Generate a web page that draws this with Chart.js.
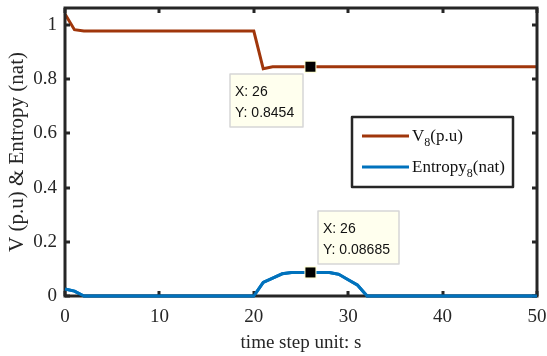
<!DOCTYPE html>
<html><head><meta charset="utf-8">
<script src="https://cdn.jsdelivr.net/npm/chart.js@4/dist/chart.umd.min.js"></script>
<style>html,body{margin:0;padding:0;background:#fff}#wrap{width:547px;height:356px}</style>
</head><body><div id="wrap"><canvas id="c" width="547" height="356"></canvas></div>
<script>
const timeSteps = [];
for (let t = 0; t <= 50; t++) timeSteps.push(t);
const voltage = [1.04,0.982,0.977,0.977,0.977,0.977,0.977,0.977,0.977,0.977,0.977,0.977,0.977,0.977,0.977,0.977,0.977,0.977,0.977,0.977,0.977,0.838,0.8454,0.8454,0.8454,0.8454,0.8454,0.8454,0.8454,0.8454,0.8454,0.8454,0.8454,0.8454,0.8454,0.8454,0.8454,0.8454,0.8454,0.8454,0.8454,0.8454,0.8454,0.8454,0.8454,0.8454,0.8454,0.8454,0.8454,0.8454,0.8454];
const entropy = [0.026,0.018,0,0,0,0,0,0,0,0,0,0,0,0,0,0,0,0,0,0,0,0.05,0.066,0.082,0.087,0.087,0.08685,0.087,0.087,0.08,0.06,0.04,0,0,0,0,0,0,0,0,0,0,0,0,0,0,0,0,0,0,0];
const xTicks = [0,10,20,30,40,50];
const yTicks = [0,0.2,0.4,0.6,0.8,1];
const tips = [
  {x: 26, y: 0.8454, lines: ['X: 26', 'Y: 0.8454']},
  {x: 26, y: 0.08685, lines: ['X: 26', 'Y: 0.08685']}
];
const legendItems = [
  {name: 'V', sub: '8', rest: '(p.u)', color: '#A0360B'},
  {name: 'Entropy', sub: '8', rest: '(nat)', color: '#0072BD'}
];

const serif = '"Liberation Serif", "Times New Roman", serif';
const sans = '"Liberation Sans", Arial, sans-serif';

const decor = {
  id: 'decor',
  afterDatasetsDraw(chart) {
    const {ctx, chartArea: a, scales: {x, y}} = chart;
    ctx.save();
    ctx.strokeStyle = '#262626';
    ctx.lineWidth = 3;
    ctx.strokeRect(a.left, a.top, a.right - a.left, a.bottom - a.top);
    const tl = 5;
    xTicks.forEach(v => {
      const px = Math.round(x.getPixelForValue(v));
      ctx.beginPath(); ctx.moveTo(px, a.bottom); ctx.lineTo(px, a.bottom - tl); ctx.stroke();
      ctx.beginPath(); ctx.moveTo(px, a.top); ctx.lineTo(px, a.top + tl); ctx.stroke();
    });
    yTicks.forEach(v => {
      const py = Math.round(y.getPixelForValue(v));
      ctx.beginPath(); ctx.moveTo(a.left, py); ctx.lineTo(a.left + tl, py); ctx.stroke();
      ctx.beginPath(); ctx.moveTo(a.right, py); ctx.lineTo(a.right - tl, py); ctx.stroke();
    });
    // entropy line redrawn over the frame (it lies on y = 0)
    const meta = chart.getDatasetMeta(1);
    ctx.strokeStyle = '#0072BD';
    ctx.lineWidth = 3;
    ctx.lineJoin = 'round';
    ctx.beginPath();
    meta.data.forEach((p, i) => { if (i === 0) ctx.moveTo(p.x, p.y); else ctx.lineTo(p.x, p.y); });
    ctx.stroke();

    // legend
    const lx = 352, ly = 117, lw = 161, lh = 70;
    ctx.fillStyle = '#fff';
    ctx.fillRect(lx, ly, lw, lh);
    ctx.strokeStyle = '#262626';
    ctx.lineWidth = 2.5;
    ctx.strokeRect(lx, ly, lw, lh);
    legendItems.forEach((it, i) => {
      const cy = ly + 19 + i * 31;
      ctx.strokeStyle = it.color; ctx.lineWidth = 3;
      ctx.beginPath(); ctx.moveTo(lx + 10, cy); ctx.lineTo(lx + 57, cy); ctx.stroke();
      ctx.fillStyle = '#111';
      ctx.textBaseline = 'alphabetic'; ctx.textAlign = 'left';
      ctx.font = '17px ' + serif;
      let tx = lx + 60;
      ctx.fillText(it.name, tx, cy + 5);
      tx += ctx.measureText(it.name).width;
      ctx.font = '12px ' + serif;
      ctx.fillText(it.sub, tx, cy + 10);
      tx += ctx.measureText(it.sub).width;
      ctx.font = '17px ' + serif;
      ctx.fillText(it.rest, tx, cy + 5);
    });

    // datatips
    const boxes = [{bx: 230, by: 74, bw: 73, bh: 53}, {bx: 318, by: 211, bw: 81, bh: 53}];
    tips.forEach((t, i) => {
      const b = boxes[i];
      ctx.fillStyle = '#FFFFEE';
      ctx.fillRect(b.bx, b.by, b.bw, b.bh);
      ctx.strokeStyle = '#D6D6D6'; ctx.lineWidth = 1.5;
      ctx.strokeRect(b.bx, b.by, b.bw, b.bh);
      ctx.fillStyle = '#111';
      ctx.font = '14px ' + sans;
      ctx.textAlign = 'left'; ctx.textBaseline = 'middle';
      ctx.fillText(t.lines[0], b.bx + 5, b.by + 18);
      ctx.fillText(t.lines[1], b.bx + 5, b.by + 39);
      const px = x.getPixelForValue(t.x), py = y.getPixelForValue(t.y);
      ctx.fillStyle = '#FFFFD0';
      ctx.fillRect(px - 6, py - 6, 12, 12);
      ctx.fillStyle = '#000';
      ctx.fillRect(px - 5, py - 5, 10, 10);
    });
    ctx.restore();
  }
};

function noOverflow(s) { s.paddingTop = 0; s.paddingBottom = 0; s.paddingLeft = 0; s.paddingRight = 0; }

new Chart(document.getElementById('c'), {
  type: 'line',
  data: {
    labels: timeSteps,
    datasets: [
      {label: 'V8(p.u)', data: timeSteps.map((t, i) => ({x: t, y: voltage[i]})), borderColor: '#A0360B', borderWidth: 3, pointRadius: 0, tension: 0, clip: false},
      {label: 'Entropy8(nat)', data: timeSteps.map((t, i) => ({x: t, y: entropy[i]})), borderColor: '#0072BD', borderWidth: 3, pointRadius: 0, tension: 0, clip: false}
    ]
  },
  options: {
    responsive: false,
    animation: false,
    layout: {padding: {top: 8, right: 10, left: 0, bottom: 0}},
    plugins: {legend: {display: false}, tooltip: {enabled: false}},
    scales: {
      x: {
        type: 'linear', min: 0, max: 50,
        afterBuildTicks: s => { s.ticks = xTicks.map(v => ({value: v})); },
        afterFit: s => { s.height = 60; noOverflow(s); },
        grid: {display: false, drawTicks: false}, border: {display: false},
        ticks: {color: '#262626', font: {family: serif, size: 19}, padding: 10, maxRotation: 0},
        title: {display: true, text: 'time step unit: s', color: '#262626', font: {family: serif, size: 19}, padding: {top: 0, bottom: 2}}
      },
      y: {
        type: 'linear', min: 0, max: 1.062,
        afterBuildTicks: s => { s.ticks = yTicks.map(v => ({value: v})); },
        afterFit: s => { s.width = 65; noOverflow(s); },
        grid: {display: false, drawTicks: false}, border: {display: false},
        ticks: {color: '#262626', font: {family: serif, size: 19}, padding: 8, callback: v => String(+v.toFixed(1))},
        title: {display: true, text: 'V (p.u) & Entropy (nat)', color: '#262626', font: {family: serif, size: 21}, padding: {top: 5, bottom: 0}}
      }
    }
  },
  plugins: [decor]
});
</script></body></html>
